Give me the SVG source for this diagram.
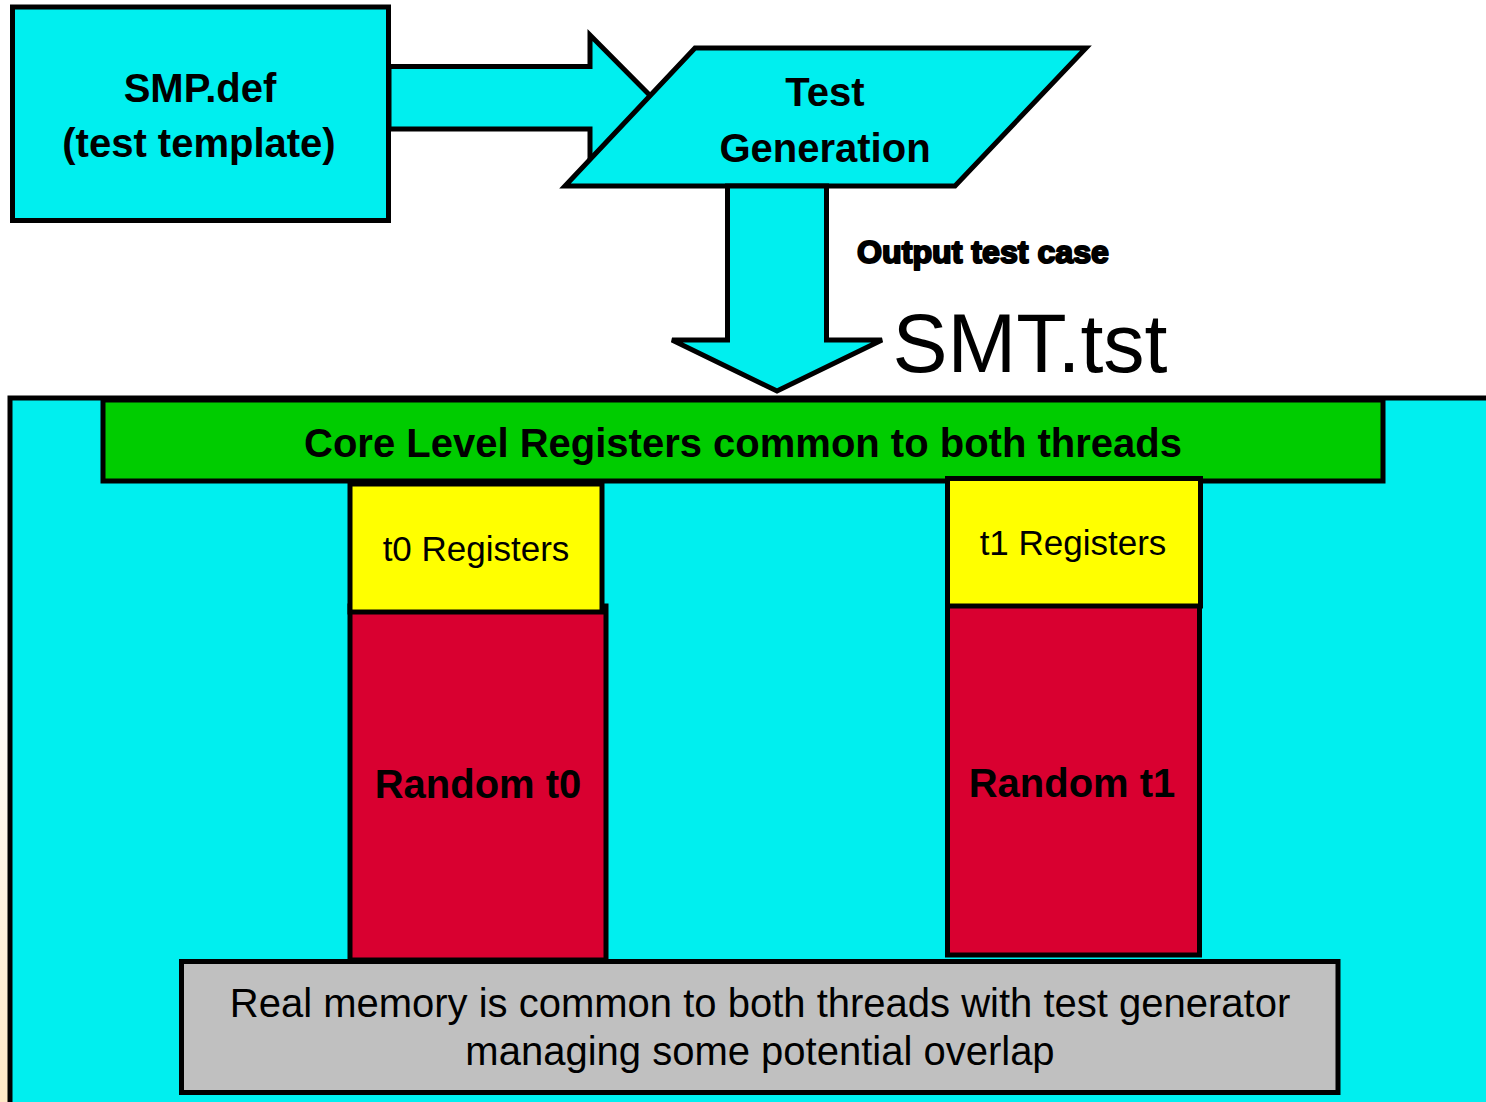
<svg xmlns="http://www.w3.org/2000/svg" width="1486" height="1102" viewBox="0 0 1486 1102">
  <defs>
    <linearGradient id="edgeTint" x1="0" y1="0" x2="0" y2="1">
      <stop offset="0" stop-color="#ffffff"/>
      <stop offset="0.35" stop-color="#ffffff"/>
      <stop offset="1" stop-color="#ffe8c6"/>
    </linearGradient>
    <style>
      .box { stroke: #000; stroke-width: 5; stroke-linejoin: miter; }
      .cyan { fill: #00efef; }
      .green { fill: #00cc00; }
      .yellow { fill: #ffff00; }
      .red { fill: #d90030; }
      .grey { fill: #c0c0c0; }
      text { font-family: "Liberation Sans", Arial, sans-serif; fill: #000; text-anchor: middle; }
      .b40 { font-size: 40px; font-weight: bold; }
      .r35 { font-size: 35px; }
      .r40 { font-size: 40px; }
    </style>
  </defs>

  <rect width="1486" height="1102" fill="#ffffff"/>
  <!-- faint tint along the left margin -->
  <rect x="0" y="400" width="8" height="702" fill="url(#edgeTint)"/>

  <!-- core panel -->
  <g id="core-panel">
    <rect class="box cyan" x="10" y="398" width="1490" height="720"/>
  </g>

  <g id="core-registers">
    <rect class="box green" x="103" y="400" width="1280" height="81"/>
    <text class="b40" x="743" y="457">Core Level Registers common to both threads</text>
  </g>

  <g id="random-t0">
    <rect class="box red" x="350" y="606" width="256" height="354"/>
    <text class="b40" x="478" y="798">Random t0</text>
  </g>
  <g id="t0-registers">
    <rect class="box yellow" x="350" y="484" width="252" height="128"/>
    <text class="r35" x="476" y="561">t0 Registers</text>
  </g>

  <g id="random-t1">
    <rect class="box red" x="947.5" y="604" width="252" height="351"/>
    <text class="b40" x="1072" y="797">Random t1</text>
  </g>
  <g id="t1-registers">
    <rect class="box yellow" x="947.5" y="478.5" width="253" height="127.5"/>
    <text class="r35" x="1073" y="555">t1 Registers</text>
  </g>

  <g id="real-memory">
    <rect class="box grey" x="181.5" y="961.5" width="1156.5" height="131"/>
    <text class="r40" x="760" y="1017">Real memory is common to both threads with test generator</text>
    <text class="r40" x="760" y="1065">managing some potential overlap</text>
  </g>

  <!-- template file -->
  <g id="smp-def">
    <rect class="box cyan" x="12.5" y="7" width="376" height="213.5"/>
    <text class="b40" x="200" y="102">SMP.def</text>
    <text class="b40" x="199" y="157">(test template)</text>
  </g>

  <!-- block arrows -->
  <g id="connectors">
    <polygon id="arrow-template-to-gen" class="box cyan" points="389,66.5 590,66.5 590,35 652,97.5 590,160 590,129 389,129"/>
  </g>

  <g id="test-generation">
    <polygon class="box cyan" points="695,48 1086,48 955,186 565,186"/>
    <text class="b40" x="825" y="106">Test</text>
    <text class="b40" x="825" y="162">Generation</text>
  </g>

  <g id="connectors-out">
    <polygon id="arrow-gen-to-core" class="box cyan" points="727.5,186 727.5,340 672,340 777,391 882,340 826.5,340 826.5,186"/>
  </g>

  <g id="output-label">
    <text x="983" y="263" font-size="32" font-weight="bold" stroke="#000" stroke-width="2" stroke-linejoin="round" textLength="252" lengthAdjust="spacingAndGlyphs">Output test case</text>
    <text x="1030" y="372" font-size="84" textLength="275" lengthAdjust="spacingAndGlyphs">SMT.tst</text>
  </g>
</svg>
